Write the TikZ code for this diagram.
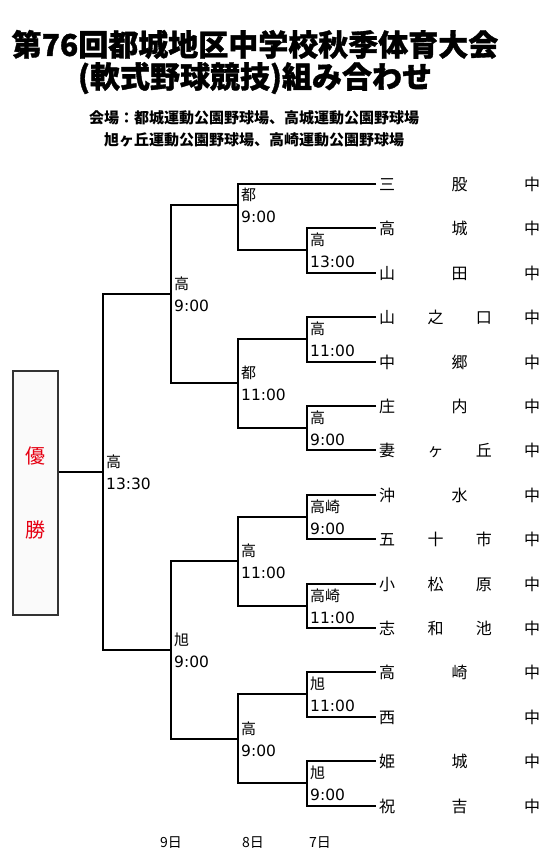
\documentclass[tikz,border=0pt]{standalone}
\usepackage{fontspec}
\setmainfont{Noto Sans CJK JP}
\newfontfamily\numfont{DejaVu Sans}
\usepackage{xcolor}
\definecolor{WinRed}{HTML}{E60012}
\definecolor{BoxEdge}{HTML}{333333}
\definecolor{BoxFill}{HTML}{FAFAFA}
\newcommand{\tm}[1]{\hbox to 161pt{#1}}
\newcommand{\hr}[1]{{\numfont\fontsize{15.5}{22}\selectfont #1}}

\begin{document}
\begin{tikzpicture}[x=1pt, y=-1pt,
   line/.style={line width=2pt},
   team/.style={anchor=west, inner xsep=3pt, inner ysep=0pt, font=\fontsize{16}{18}\selectfont},
   lbl/.style={anchor=west, inner xsep=3pt, inner ysep=0pt, align=left, font=\fontsize{15}{22}\selectfont},
   day/.style={font=\fontsize{14}{16}\selectfont}]
  \useasboundingbox (0,0) rectangle (551,868);

  \node[align=center, font=\fontsize{30}{32}\selectfont\bfseries\addfontfeature{FakeBold=1.2}] (title) at (255,62)
    {第76回都城地区中学校秋季体育大会\\(軟式野球競技)組み合わせ};
  \node[align=center, font=\fontsize{15}{22}\selectfont\bfseries] (place) at (254,129)
    {会場：都城運動公園野球場、高城運動公園野球場\\旭ヶ丘運動公園野球場、高崎運動公園野球場};

  \node[team] (t1)  at (376,184) {\tm{三\hfill 股\hfill 中}};
  \node[team] (t2)  at (376,228) {\tm{高\hfill 城\hfill 中}};
  \node[team] (t3)  at (376,273) {\tm{山\hfill 田\hfill 中}};
  \node[team] (t4)  at (376,317) {\tm{山\hfill 之\hfill 口\hfill 中}};
  \node[team] (t5)  at (376,362) {\tm{中\hfill 郷\hfill 中}};
  \node[team] (t6)  at (376,406) {\tm{庄\hfill 内\hfill 中}};
  \node[team] (t7)  at (376,450) {\tm{妻\hfill ヶ\hfill 丘\hfill 中}};
  \node[team] (t8)  at (376,495) {\tm{沖\hfill 水\hfill 中}};
  \node[team] (t9)  at (376,539) {\tm{五\hfill 十\hfill 市\hfill 中}};
  \node[team] (t10) at (376,584) {\tm{小\hfill 松\hfill 原\hfill 中}};
  \node[team] (t11) at (376,628) {\tm{志\hfill 和\hfill 池\hfill 中}};
  \node[team] (t12) at (376,672) {\tm{高\hfill 崎\hfill 中}};
  \node[team] (t13) at (376,717) {\tm{西\hfill 中}};
  \node[team] (t14) at (376,761) {\tm{姫\hfill 城\hfill 中}};
  \node[team] (t15) at (376,806) {\tm{祝\hfill 吉\hfill 中}};

  \coordinate (g1)  at (307,250);
  \coordinate (g2)  at (238,205);
  \coordinate (g3)  at (307,339);
  \coordinate (g4)  at (307,428);
  \coordinate (g5)  at (238,383);
  \coordinate (g6)  at (171,294);
  \coordinate (g7)  at (307,517);
  \coordinate (g8)  at (307,606);
  \coordinate (g9)  at (238,561);
  \coordinate (g10) at (307,694);
  \coordinate (g11) at (307,783);
  \coordinate (g12) at (238,739);
  \coordinate (g13) at (171,650);
  \coordinate (g14) at (103,472);

  \node[draw=BoxEdge, line width=2pt, fill=BoxFill, minimum width=45pt, minimum height=244pt,
        inner sep=0pt] (win) at (35.5,493) {};
  \node[text=WinRed, align=center, font=\fontsize{20}{74}\selectfont] (winlbl) at (win.center) {優\\勝};

  \draw[line] (t2.west) -| (g1) |- (t3.west);
  \draw[line] (t1.west) -| (g2) |- (g1);
  \draw[line] (t4.west) -| (g3) |- (t5.west);
  \draw[line] (t6.west) -| (g4) |- (t7.west);
  \draw[line] (g3) -| (g5) |- (g4);
  \draw[line] (g2) -| (g6) |- (g5);
  \draw[line] (t8.west) -| (g7) |- (t9.west);
  \draw[line] (t10.west) -| (g8) |- (t11.west);
  \draw[line] (g7) -| (g9) |- (g8);
  \draw[line] (t12.west) -| (g10) |- (t13.west);
  \draw[line] (t14.west) -| (g11) |- (t15.west);
  \draw[line] (g10) -| (g12) |- (g11);
  \draw[line] (g9) -| (g13) |- (g12);
  \draw[line] (g6) -| (g14) |- (g13);
  \draw[line] (g14) -- (g14 -| win.east);

  \node[lbl] (l1)  at (g1)  {高\\\hr{13:00}};
  \node[lbl] (l2)  at (g2)  {都\\\hr{9:00}};
  \node[lbl] (l3)  at (g3)  {高\\\hr{11:00}};
  \node[lbl] (l4)  at (g4)  {高\\\hr{9:00}};
  \node[lbl] (l5)  at (g5)  {都\\\hr{11:00}};
  \node[lbl] (l6)  at (g6)  {高\\\hr{9:00}};
  \node[lbl] (l7)  at (g7)  {高崎\\\hr{9:00}};
  \node[lbl] (l8)  at (g8)  {高崎\\\hr{11:00}};
  \node[lbl] (l9)  at (g9)  {高\\\hr{11:00}};
  \node[lbl] (l10) at (g10) {旭\\\hr{11:00}};
  \node[lbl] (l11) at (g11) {旭\\\hr{9:00}};
  \node[lbl] (l12) at (g12) {高\\\hr{9:00}};
  \node[lbl] (l13) at (g13) {旭\\\hr{9:00}};
  \node[lbl] (l14) at (g14) {高\\\hr{13:30}};

  \node[day] (d9) at (171,843) {9日};
  \node[day] (d8) at (253,843) {8日};
  \node[day] (d7) at (320,843) {7日};
\end{tikzpicture}
\end{document}
